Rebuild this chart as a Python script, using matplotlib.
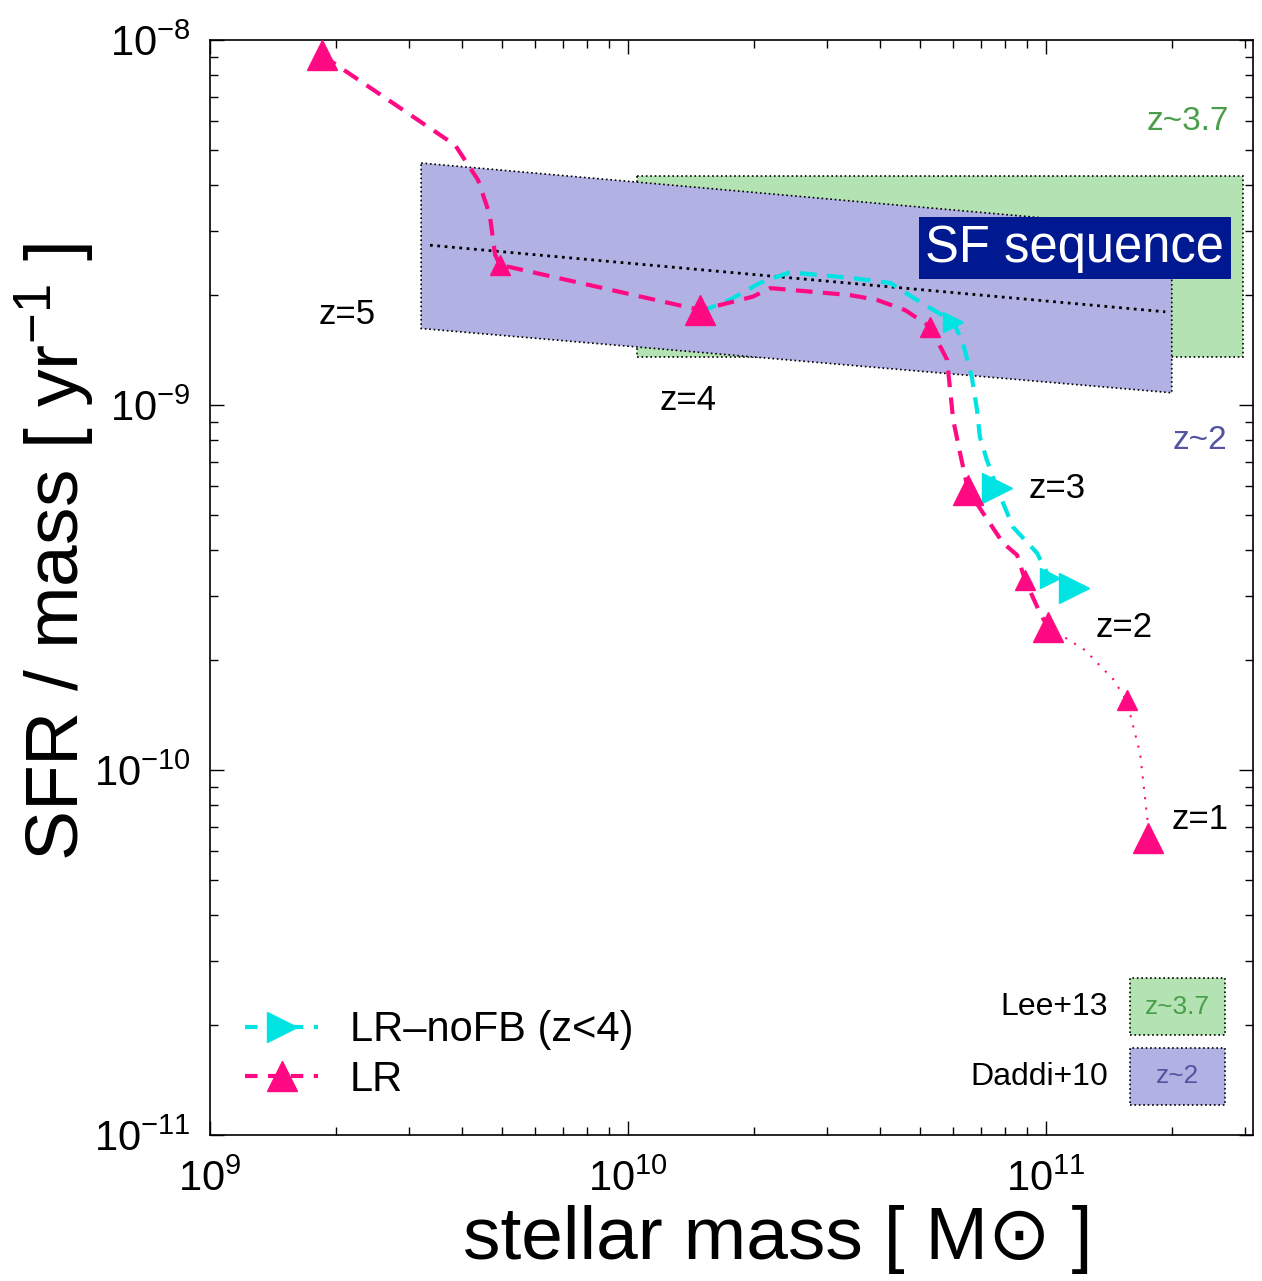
import numpy as np
import matplotlib
matplotlib.use("Agg")
import matplotlib.pyplot as plt
from matplotlib.patches import Polygon, Rectangle

plt.rcParams['font.family'] = ['Liberation Sans', 'DejaVu Sans']
plt.rcParams['mathtext.fontset'] = 'custom'
plt.rcParams['mathtext.rm'] = 'Liberation Sans'
plt.rcParams['mathtext.default'] = 'regular'

# LR track (dashed part, z=5 -> z=2)
lr_mass = [1.85e9, 3.86e9, 4.38e9, 4.67e9, 4.81e9, 4.94e9, 1.49e10, 1.99e10, 2.19e10,
           3.40e10, 3.94e10, 4.60e10, 5.28e10, 5.80e10, 6.0e10, 6.23e10, 6.51e10,
           7.07e10, 7.89e10, 8.53e10, 8.91e10, 9.68e10, 1.01e11]
lr_ssfr = [9.1e-9, 5.15e-9, 4.13e-9, 3.32e-9, 2.58e-9, 2.42e-9, 1.82e-9, 1.98e-9, 2.09e-9,
           2.0e-9, 1.94e-9, 1.82e-9, 1.64e-9, 1.33e-9, 9.1e-10, 7.39e-10, 5.85e-10,
           5.06e-10, 4.19e-10, 3.88e-10, 3.32e-10, 2.69e-10, 2.47e-10]
# LR track (dotted part, z=2 -> z=1)
lr2_mass = [1.01e11, 1.24e11, 1.45e11, 1.56e11, 1.68e11, 1.75e11, 1.75e11]
lr2_ssfr = [2.47e-10, 2.13e-10, 1.77e-10, 1.55e-10, 1.11e-10, 7.3e-11, 6.5e-11]
# LR markers
lr_big_mass = [1.85e9, 1.49e10, 6.51e10, 1.01e11, 1.75e11]
lr_big_ssfr = [9.1e-9, 1.82e-9, 5.85e-10, 2.47e-10, 6.5e-11]
lr_small_mass = [4.94e9, 5.28e10, 8.91e10, 1.56e11]
lr_small_ssfr = [2.42e-9, 1.64e-9, 3.32e-10, 1.55e-10]

# LR-noFB track (z<4)
nofb_mass = [1.49e10, 1.75e10, 2.07e10, 2.44e10, 3.40e10, 4.24e10, 4.91e10, 6.0e10, 6.33e10,
             6.65e10, 6.84e10, 6.95e10, 7.22e10, 7.63e10, 8.34e10, 9.52e10, 1.02e11, 1.17e11]
nofb_ssfr = [1.80e-9, 1.94e-9, 2.16e-9, 2.31e-9, 2.23e-9, 2.16e-9, 1.94e-9, 1.69e-9, 1.48e-9,
             1.19e-9, 9.7e-10, 8.17e-10, 7.07e-10, 5.93e-10, 4.63e-10, 3.93e-10, 3.36e-10, 3.15e-10]
nofb_big_mass = [7.63e10, 1.17e11]
nofb_big_ssfr = [5.93e-10, 3.15e-10]
nofb_small_mass = [6.0e10, 1.02e11]
nofb_small_ssfr = [1.69e-9, 3.36e-10]

# observed SF sequences
daddi_mass = [3.2e9, 2.0e11, 2.0e11, 3.2e9]
daddi_ssfr = [4.6e-9, 3.03e-9, 1.08e-9, 1.62e-9]
daddi_mid_mass = [3.36e9, 1.93e11]
daddi_mid_ssfr = [2.74e-9, 1.80e-9]
lee_mass = [1.05e10, 2.96e11, 2.96e11, 1.05e10]
lee_ssfr = [4.23e-9, 4.23e-9, 1.35e-9, 1.35e-9]

pink = '#ff0a82'
cyan = '#00e3e3'
green_fill = '#b3e3b3'
purple_fill = '#b1b1e3'
green_txt = '#4a9e4a'
purple_txt = '#5454a3'

fig = plt.figure(figsize=(12.62, 12.81), dpi=100)
ax = fig.add_axes([0.1664, 0.1140, 0.8265, 0.8548])
ax.set_xscale('log')
ax.set_yscale('log')
ax.set_xlim(1e9, 3.13e11)
ax.set_ylim(1e-11, 1e-8)

ax.add_patch(Polygon(np.column_stack([lee_mass, lee_ssfr]), closed=True, facecolor=green_fill,
                     edgecolor='k', linestyle=':', linewidth=1.2, zorder=1))
ax.add_patch(Polygon(np.column_stack([daddi_mass, daddi_ssfr]), closed=True, facecolor=purple_fill,
                     edgecolor='k', linestyle=':', linewidth=1.2, zorder=2))
ax.plot(daddi_mid_mass, daddi_mid_ssfr, color='k', linestyle=':', linewidth=2, zorder=3)

ax.plot(nofb_mass, nofb_ssfr, color=cyan, lw=3, dashes=[4, 2.5], zorder=4)
ax.plot(nofb_small_mass, nofb_small_ssfr, '>', color=cyan, ms=14, zorder=5)
ax.plot(nofb_big_mass, nofb_big_ssfr, '>', color=cyan, ms=22, zorder=5)

ax.plot(lr_mass, lr_ssfr, color=pink, lw=3, dashes=[4, 2.5], zorder=6)
ax.plot(lr2_mass, lr2_ssfr, color=pink, lw=1.5, dashes=[1, 4], zorder=6)
ax.plot(lr_small_mass, lr_small_ssfr, '^', color=pink, ms=14, zorder=7)
ax.plot(lr_big_mass, lr_big_ssfr, '^', color=pink, ms=22, zorder=7)

# legend handles
h1, = ax.plot([], [], color=cyan, lw=3, dashes=[3, 2.5], marker='>', ms=22)
h2, = ax.plot([], [], color=pink, lw=3, dashes=[3, 2.5], marker='^', ms=22)
ax.legend([h1, h2], ['LR\u2013noFB (z<4)', 'LR'], loc='lower left', bbox_to_anchor=(0.0, 0.0),
          frameon=False, fontsize=30, numpoints=1, handlelength=1.75, labelspacing=0.22,
          handletextpad=0.75, borderaxespad=0.45)

tf = ax.transAxes
for lab, xx, yy in [('z=5', 0.1313, 0.7489), ('z=4', 0.4583, 0.6712), ('z=3', 0.8122, 0.5900),
                    ('z=2', 0.8763, 0.4630), ('z=1', 0.9492, 0.2877)]:
    ax.text(xx, yy, lab, transform=tf, fontsize=25, ha='center', va='center', zorder=8)
ax.text(0.9377, 0.9251, 'z~3.7', transform=tf, fontsize=24, color=green_txt, ha='center', va='center')
ax.text(0.9492, 0.6338, 'z~2', transform=tf, fontsize=24, color=purple_txt, ha='center', va='center')
ax.text(0.8293, 0.8100, 'SF sequence', transform=tf, fontsize=36.5, color='white', ha='center',
        va='center', zorder=9,
        bbox=dict(boxstyle='square,pad=0.12', facecolor='#001890', edgecolor='none'))

# data-source key
ax.add_patch(Rectangle((0.8821, 0.0913), 0.0911, 0.0521, transform=tf, facecolor=green_fill,
                       edgecolor='k', linestyle=':', linewidth=1.2, zorder=8))
ax.add_patch(Rectangle((0.8821, 0.0274), 0.0911, 0.0521, transform=tf, facecolor=purple_fill,
                       edgecolor='k', linestyle=':', linewidth=1.2, zorder=8))
ax.text(0.9276, 0.1173, 'z~3.7', transform=tf, fontsize=19, color=green_txt, ha='center', va='center', zorder=9)
ax.text(0.9276, 0.0534, 'z~2', transform=tf, fontsize=19, color=purple_txt, ha='center', va='center', zorder=9)
ax.text(0.8610, 0.1169, 'Lee+13', transform=tf, fontsize=23, ha='right', va='center')
ax.text(0.8610, 0.0530, 'Daddi+10', transform=tf, fontsize=23, ha='right', va='center')

ax.tick_params(which='both', direction='in', top=True, right=True, labelsize=30)
ax.tick_params(which='major', length=10, width=1)
ax.tick_params(which='minor', length=6, width=1)
ax.tick_params(axis='x', pad=18)
ax.tick_params(axis='y', pad=14)
ax.set_xlabel('stellar mass [ M\u2299 ]', fontsize=54)
ax.set_ylabel('SFR / mass [ yr$^{-1}$ ]', fontsize=54)
ax.xaxis.set_label_coords(0.5446, -0.064)
ax.yaxis.set_label_coords(-0.108, 0.532)
for s in ax.spines.values():
    s.set_linewidth(1.2)

fig.savefig('out.png', dpi=100)
